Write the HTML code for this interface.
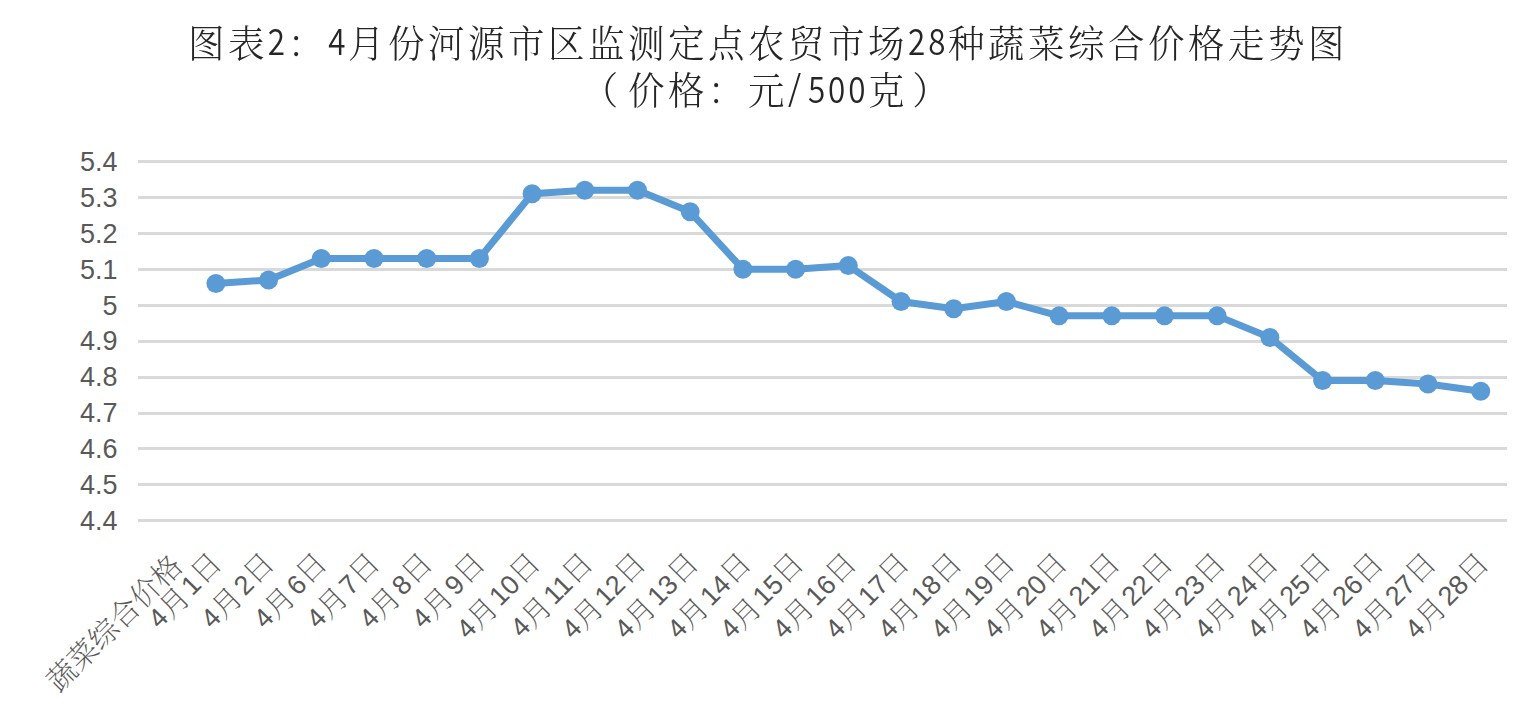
<!DOCTYPE html><html><head><meta charset="utf-8"><style>html,body{margin:0;padding:0;background:#fff;}body{position:relative;width:1535px;height:710px;overflow:hidden;}svg{display:block;position:absolute;left:0;top:0;}.tt{position:absolute;white-space:nowrap;font-family:'Liberation Serif','Noto Serif CJK SC',serif;font-size:38px;font-weight:300;letter-spacing:3.667px;color:#262626;line-height:1;transform:scaleX(0.96);transform-origin:0 0;}.tt .d{display:inline-block;width:20.833px;letter-spacing:0;font-family:'Noto Sans CJK SC',sans-serif;font-weight:350;font-size:36.5px;transform:scaleX(0.8958);transform-origin:1px 0;}.tt .lp{position:relative;left:-6.5px;}.tt .rp{position:relative;left:4.5px;}.tt .d{position:relative;top:-1.3px;line-height:20px;}.tt .d.s{transform:none;top:-3px;font-size:35px;padding-left:0px;width:20.833px;}</style></head><body>
<svg width="1535" height="710" viewBox="0 0 1535 710">
<rect width="1535" height="710" fill="#fff"/>
<rect x="138" y="160" width="1369" height="3" fill="#d9d9d9"/>
<rect x="138" y="196" width="1369" height="3" fill="#d9d9d9"/>
<rect x="138" y="232" width="1369" height="3" fill="#d9d9d9"/>
<rect x="138" y="268" width="1369" height="3" fill="#d9d9d9"/>
<rect x="138" y="304" width="1369" height="3" fill="#d9d9d9"/>
<rect x="138" y="340" width="1369" height="3" fill="#d9d9d9"/>
<rect x="138" y="376" width="1369" height="3" fill="#d9d9d9"/>
<rect x="138" y="412" width="1369" height="3" fill="#d9d9d9"/>
<rect x="138" y="447" width="1369" height="3" fill="#d9d9d9"/>
<rect x="138" y="483" width="1369" height="3" fill="#d9d9d9"/>
<rect x="138" y="519" width="1369" height="3" fill="#d9d9d9"/>
<g font-family="Liberation Sans, sans-serif" font-size="27" fill="#595959" text-anchor="end">
<text x="117.5" y="170.90">5.4</text>
<text x="117.5" y="206.80">5.3</text>
<text x="117.5" y="242.70">5.2</text>
<text x="117.5" y="278.60">5.1</text>
<text x="117.5" y="314.50">5</text>
<text x="117.5" y="350.40">4.9</text>
<text x="117.5" y="386.30">4.8</text>
<text x="117.5" y="422.20">4.7</text>
<text x="117.5" y="458.10">4.6</text>
<text x="117.5" y="494.00">4.5</text>
<text x="117.5" y="529.90">4.4</text>
</g>
<polyline points="215.90,283.56 268.60,279.97 321.30,258.43 374.00,258.43 426.70,258.43 479.40,258.43 532.10,193.81 584.80,190.22 637.50,190.22 690.20,211.76 742.90,269.20 795.60,269.20 848.30,265.61 901.00,301.51 953.70,308.69 1006.40,301.51 1059.10,315.87 1111.80,315.87 1164.50,315.87 1217.20,315.87 1269.90,337.41 1322.60,380.49 1375.30,380.49 1428.00,384.08 1480.70,391.26" fill="none" stroke="#5b9bd5" stroke-width="7" stroke-linejoin="round" stroke-linecap="round"/>
<circle cx="215.90" cy="283.56" r="9.5" fill="#5b9bd5"/>
<circle cx="268.60" cy="279.97" r="9.5" fill="#5b9bd5"/>
<circle cx="321.30" cy="258.43" r="9.5" fill="#5b9bd5"/>
<circle cx="374.00" cy="258.43" r="9.5" fill="#5b9bd5"/>
<circle cx="426.70" cy="258.43" r="9.5" fill="#5b9bd5"/>
<circle cx="479.40" cy="258.43" r="9.5" fill="#5b9bd5"/>
<circle cx="532.10" cy="193.81" r="9.5" fill="#5b9bd5"/>
<circle cx="584.80" cy="190.22" r="9.5" fill="#5b9bd5"/>
<circle cx="637.50" cy="190.22" r="9.5" fill="#5b9bd5"/>
<circle cx="690.20" cy="211.76" r="9.5" fill="#5b9bd5"/>
<circle cx="742.90" cy="269.20" r="9.5" fill="#5b9bd5"/>
<circle cx="795.60" cy="269.20" r="9.5" fill="#5b9bd5"/>
<circle cx="848.30" cy="265.61" r="9.5" fill="#5b9bd5"/>
<circle cx="901.00" cy="301.51" r="9.5" fill="#5b9bd5"/>
<circle cx="953.70" cy="308.69" r="9.5" fill="#5b9bd5"/>
<circle cx="1006.40" cy="301.51" r="9.5" fill="#5b9bd5"/>
<circle cx="1059.10" cy="315.87" r="9.5" fill="#5b9bd5"/>
<circle cx="1111.80" cy="315.87" r="9.5" fill="#5b9bd5"/>
<circle cx="1164.50" cy="315.87" r="9.5" fill="#5b9bd5"/>
<circle cx="1217.20" cy="315.87" r="9.5" fill="#5b9bd5"/>
<circle cx="1269.90" cy="337.41" r="9.5" fill="#5b9bd5"/>
<circle cx="1322.60" cy="380.49" r="9.5" fill="#5b9bd5"/>
<circle cx="1375.30" cy="380.49" r="9.5" fill="#5b9bd5"/>
<circle cx="1428.00" cy="384.08" r="9.5" fill="#5b9bd5"/>
<circle cx="1480.70" cy="391.26" r="9.5" fill="#5b9bd5"/>
<g fill="#595959" font-family="Liberation Sans, 'Noto Serif CJK SC', serif">
<text transform="translate(175.10,558.80) rotate(-45)" text-anchor="end"><tspan dy="13.00" font-family="'Liberation Serif', 'Noto Serif CJK SC', serif" font-weight="200" font-size="29.5">蔬菜综合价格</tspan></text>
<text transform="translate(214.33,555.80) rotate(-45)" text-anchor="end"><tspan dy="13.30" font-family="'Liberation Sans', sans-serif" font-size="27">4</tspan><tspan dy="1.70" font-family="'Liberation Serif', 'Noto Serif CJK SC', serif" font-weight="200" font-size="29.5">月</tspan><tspan dx="2.0" dy="-1.70" font-family="'Liberation Sans', sans-serif" font-size="27">1</tspan><tspan dy="-0.30" font-family="'Liberation Serif', 'Noto Serif CJK SC', serif" font-weight="200" font-size="29.5">日</tspan></text>
<text transform="translate(267.03,555.80) rotate(-45)" text-anchor="end"><tspan dy="13.30" font-family="'Liberation Sans', sans-serif" font-size="27">4</tspan><tspan dy="1.70" font-family="'Liberation Serif', 'Noto Serif CJK SC', serif" font-weight="200" font-size="29.5">月</tspan><tspan dx="2.0" dy="-1.70" font-family="'Liberation Sans', sans-serif" font-size="27">2</tspan><tspan dy="-0.30" font-family="'Liberation Serif', 'Noto Serif CJK SC', serif" font-weight="200" font-size="29.5">日</tspan></text>
<text transform="translate(319.73,555.80) rotate(-45)" text-anchor="end"><tspan dy="13.30" font-family="'Liberation Sans', sans-serif" font-size="27">4</tspan><tspan dy="1.70" font-family="'Liberation Serif', 'Noto Serif CJK SC', serif" font-weight="200" font-size="29.5">月</tspan><tspan dx="2.0" dy="-1.70" font-family="'Liberation Sans', sans-serif" font-size="27">6</tspan><tspan dy="-0.30" font-family="'Liberation Serif', 'Noto Serif CJK SC', serif" font-weight="200" font-size="29.5">日</tspan></text>
<text transform="translate(372.43,555.80) rotate(-45)" text-anchor="end"><tspan dy="13.30" font-family="'Liberation Sans', sans-serif" font-size="27">4</tspan><tspan dy="1.70" font-family="'Liberation Serif', 'Noto Serif CJK SC', serif" font-weight="200" font-size="29.5">月</tspan><tspan dx="2.0" dy="-1.70" font-family="'Liberation Sans', sans-serif" font-size="27">7</tspan><tspan dy="-0.30" font-family="'Liberation Serif', 'Noto Serif CJK SC', serif" font-weight="200" font-size="29.5">日</tspan></text>
<text transform="translate(425.13,555.80) rotate(-45)" text-anchor="end"><tspan dy="13.30" font-family="'Liberation Sans', sans-serif" font-size="27">4</tspan><tspan dy="1.70" font-family="'Liberation Serif', 'Noto Serif CJK SC', serif" font-weight="200" font-size="29.5">月</tspan><tspan dx="2.0" dy="-1.70" font-family="'Liberation Sans', sans-serif" font-size="27">8</tspan><tspan dy="-0.30" font-family="'Liberation Serif', 'Noto Serif CJK SC', serif" font-weight="200" font-size="29.5">日</tspan></text>
<text transform="translate(477.83,555.80) rotate(-45)" text-anchor="end"><tspan dy="13.30" font-family="'Liberation Sans', sans-serif" font-size="27">4</tspan><tspan dy="1.70" font-family="'Liberation Serif', 'Noto Serif CJK SC', serif" font-weight="200" font-size="29.5">月</tspan><tspan dx="2.0" dy="-1.70" font-family="'Liberation Sans', sans-serif" font-size="27">9</tspan><tspan dy="-0.30" font-family="'Liberation Serif', 'Noto Serif CJK SC', serif" font-weight="200" font-size="29.5">日</tspan></text>
<text transform="translate(533.04,555.80) rotate(-45)" text-anchor="end"><tspan dy="13.30" font-family="'Liberation Sans', sans-serif" font-size="27">4</tspan><tspan dy="1.70" font-family="'Liberation Serif', 'Noto Serif CJK SC', serif" font-weight="200" font-size="29.5">月</tspan><tspan dx="2.0" dy="-1.70" font-family="'Liberation Sans', sans-serif" font-size="27">10</tspan><tspan dy="-0.30" font-family="'Liberation Serif', 'Noto Serif CJK SC', serif" font-weight="200" font-size="29.5">日</tspan></text>
<text transform="translate(585.74,555.80) rotate(-45)" text-anchor="end"><tspan dy="13.30" font-family="'Liberation Sans', sans-serif" font-size="27">4</tspan><tspan dy="1.70" font-family="'Liberation Serif', 'Noto Serif CJK SC', serif" font-weight="200" font-size="29.5">月</tspan><tspan dx="2.0" dy="-1.70" font-family="'Liberation Sans', sans-serif" font-size="27">11</tspan><tspan dy="-0.30" font-family="'Liberation Serif', 'Noto Serif CJK SC', serif" font-weight="200" font-size="29.5">日</tspan></text>
<text transform="translate(638.44,555.80) rotate(-45)" text-anchor="end"><tspan dy="13.30" font-family="'Liberation Sans', sans-serif" font-size="27">4</tspan><tspan dy="1.70" font-family="'Liberation Serif', 'Noto Serif CJK SC', serif" font-weight="200" font-size="29.5">月</tspan><tspan dx="2.0" dy="-1.70" font-family="'Liberation Sans', sans-serif" font-size="27">12</tspan><tspan dy="-0.30" font-family="'Liberation Serif', 'Noto Serif CJK SC', serif" font-weight="200" font-size="29.5">日</tspan></text>
<text transform="translate(691.14,555.80) rotate(-45)" text-anchor="end"><tspan dy="13.30" font-family="'Liberation Sans', sans-serif" font-size="27">4</tspan><tspan dy="1.70" font-family="'Liberation Serif', 'Noto Serif CJK SC', serif" font-weight="200" font-size="29.5">月</tspan><tspan dx="2.0" dy="-1.70" font-family="'Liberation Sans', sans-serif" font-size="27">13</tspan><tspan dy="-0.30" font-family="'Liberation Serif', 'Noto Serif CJK SC', serif" font-weight="200" font-size="29.5">日</tspan></text>
<text transform="translate(743.84,555.80) rotate(-45)" text-anchor="end"><tspan dy="13.30" font-family="'Liberation Sans', sans-serif" font-size="27">4</tspan><tspan dy="1.70" font-family="'Liberation Serif', 'Noto Serif CJK SC', serif" font-weight="200" font-size="29.5">月</tspan><tspan dx="2.0" dy="-1.70" font-family="'Liberation Sans', sans-serif" font-size="27">14</tspan><tspan dy="-0.30" font-family="'Liberation Serif', 'Noto Serif CJK SC', serif" font-weight="200" font-size="29.5">日</tspan></text>
<text transform="translate(796.54,555.80) rotate(-45)" text-anchor="end"><tspan dy="13.30" font-family="'Liberation Sans', sans-serif" font-size="27">4</tspan><tspan dy="1.70" font-family="'Liberation Serif', 'Noto Serif CJK SC', serif" font-weight="200" font-size="29.5">月</tspan><tspan dx="2.0" dy="-1.70" font-family="'Liberation Sans', sans-serif" font-size="27">15</tspan><tspan dy="-0.30" font-family="'Liberation Serif', 'Noto Serif CJK SC', serif" font-weight="200" font-size="29.5">日</tspan></text>
<text transform="translate(849.24,555.80) rotate(-45)" text-anchor="end"><tspan dy="13.30" font-family="'Liberation Sans', sans-serif" font-size="27">4</tspan><tspan dy="1.70" font-family="'Liberation Serif', 'Noto Serif CJK SC', serif" font-weight="200" font-size="29.5">月</tspan><tspan dx="2.0" dy="-1.70" font-family="'Liberation Sans', sans-serif" font-size="27">16</tspan><tspan dy="-0.30" font-family="'Liberation Serif', 'Noto Serif CJK SC', serif" font-weight="200" font-size="29.5">日</tspan></text>
<text transform="translate(901.94,555.80) rotate(-45)" text-anchor="end"><tspan dy="13.30" font-family="'Liberation Sans', sans-serif" font-size="27">4</tspan><tspan dy="1.70" font-family="'Liberation Serif', 'Noto Serif CJK SC', serif" font-weight="200" font-size="29.5">月</tspan><tspan dx="2.0" dy="-1.70" font-family="'Liberation Sans', sans-serif" font-size="27">17</tspan><tspan dy="-0.30" font-family="'Liberation Serif', 'Noto Serif CJK SC', serif" font-weight="200" font-size="29.5">日</tspan></text>
<text transform="translate(954.64,555.80) rotate(-45)" text-anchor="end"><tspan dy="13.30" font-family="'Liberation Sans', sans-serif" font-size="27">4</tspan><tspan dy="1.70" font-family="'Liberation Serif', 'Noto Serif CJK SC', serif" font-weight="200" font-size="29.5">月</tspan><tspan dx="2.0" dy="-1.70" font-family="'Liberation Sans', sans-serif" font-size="27">18</tspan><tspan dy="-0.30" font-family="'Liberation Serif', 'Noto Serif CJK SC', serif" font-weight="200" font-size="29.5">日</tspan></text>
<text transform="translate(1007.34,555.80) rotate(-45)" text-anchor="end"><tspan dy="13.30" font-family="'Liberation Sans', sans-serif" font-size="27">4</tspan><tspan dy="1.70" font-family="'Liberation Serif', 'Noto Serif CJK SC', serif" font-weight="200" font-size="29.5">月</tspan><tspan dx="2.0" dy="-1.70" font-family="'Liberation Sans', sans-serif" font-size="27">19</tspan><tspan dy="-0.30" font-family="'Liberation Serif', 'Noto Serif CJK SC', serif" font-weight="200" font-size="29.5">日</tspan></text>
<text transform="translate(1060.04,555.80) rotate(-45)" text-anchor="end"><tspan dy="13.30" font-family="'Liberation Sans', sans-serif" font-size="27">4</tspan><tspan dy="1.70" font-family="'Liberation Serif', 'Noto Serif CJK SC', serif" font-weight="200" font-size="29.5">月</tspan><tspan dx="2.0" dy="-1.70" font-family="'Liberation Sans', sans-serif" font-size="27">20</tspan><tspan dy="-0.30" font-family="'Liberation Serif', 'Noto Serif CJK SC', serif" font-weight="200" font-size="29.5">日</tspan></text>
<text transform="translate(1112.74,555.80) rotate(-45)" text-anchor="end"><tspan dy="13.30" font-family="'Liberation Sans', sans-serif" font-size="27">4</tspan><tspan dy="1.70" font-family="'Liberation Serif', 'Noto Serif CJK SC', serif" font-weight="200" font-size="29.5">月</tspan><tspan dx="2.0" dy="-1.70" font-family="'Liberation Sans', sans-serif" font-size="27">21</tspan><tspan dy="-0.30" font-family="'Liberation Serif', 'Noto Serif CJK SC', serif" font-weight="200" font-size="29.5">日</tspan></text>
<text transform="translate(1165.44,555.80) rotate(-45)" text-anchor="end"><tspan dy="13.30" font-family="'Liberation Sans', sans-serif" font-size="27">4</tspan><tspan dy="1.70" font-family="'Liberation Serif', 'Noto Serif CJK SC', serif" font-weight="200" font-size="29.5">月</tspan><tspan dx="2.0" dy="-1.70" font-family="'Liberation Sans', sans-serif" font-size="27">22</tspan><tspan dy="-0.30" font-family="'Liberation Serif', 'Noto Serif CJK SC', serif" font-weight="200" font-size="29.5">日</tspan></text>
<text transform="translate(1218.14,555.80) rotate(-45)" text-anchor="end"><tspan dy="13.30" font-family="'Liberation Sans', sans-serif" font-size="27">4</tspan><tspan dy="1.70" font-family="'Liberation Serif', 'Noto Serif CJK SC', serif" font-weight="200" font-size="29.5">月</tspan><tspan dx="2.0" dy="-1.70" font-family="'Liberation Sans', sans-serif" font-size="27">23</tspan><tspan dy="-0.30" font-family="'Liberation Serif', 'Noto Serif CJK SC', serif" font-weight="200" font-size="29.5">日</tspan></text>
<text transform="translate(1270.84,555.80) rotate(-45)" text-anchor="end"><tspan dy="13.30" font-family="'Liberation Sans', sans-serif" font-size="27">4</tspan><tspan dy="1.70" font-family="'Liberation Serif', 'Noto Serif CJK SC', serif" font-weight="200" font-size="29.5">月</tspan><tspan dx="2.0" dy="-1.70" font-family="'Liberation Sans', sans-serif" font-size="27">24</tspan><tspan dy="-0.30" font-family="'Liberation Serif', 'Noto Serif CJK SC', serif" font-weight="200" font-size="29.5">日</tspan></text>
<text transform="translate(1323.54,555.80) rotate(-45)" text-anchor="end"><tspan dy="13.30" font-family="'Liberation Sans', sans-serif" font-size="27">4</tspan><tspan dy="1.70" font-family="'Liberation Serif', 'Noto Serif CJK SC', serif" font-weight="200" font-size="29.5">月</tspan><tspan dx="2.0" dy="-1.70" font-family="'Liberation Sans', sans-serif" font-size="27">25</tspan><tspan dy="-0.30" font-family="'Liberation Serif', 'Noto Serif CJK SC', serif" font-weight="200" font-size="29.5">日</tspan></text>
<text transform="translate(1376.24,555.80) rotate(-45)" text-anchor="end"><tspan dy="13.30" font-family="'Liberation Sans', sans-serif" font-size="27">4</tspan><tspan dy="1.70" font-family="'Liberation Serif', 'Noto Serif CJK SC', serif" font-weight="200" font-size="29.5">月</tspan><tspan dx="2.0" dy="-1.70" font-family="'Liberation Sans', sans-serif" font-size="27">26</tspan><tspan dy="-0.30" font-family="'Liberation Serif', 'Noto Serif CJK SC', serif" font-weight="200" font-size="29.5">日</tspan></text>
<text transform="translate(1428.94,555.80) rotate(-45)" text-anchor="end"><tspan dy="13.30" font-family="'Liberation Sans', sans-serif" font-size="27">4</tspan><tspan dy="1.70" font-family="'Liberation Serif', 'Noto Serif CJK SC', serif" font-weight="200" font-size="29.5">月</tspan><tspan dx="2.0" dy="-1.70" font-family="'Liberation Sans', sans-serif" font-size="27">27</tspan><tspan dy="-0.30" font-family="'Liberation Serif', 'Noto Serif CJK SC', serif" font-weight="200" font-size="29.5">日</tspan></text>
<text transform="translate(1481.64,555.80) rotate(-45)" text-anchor="end"><tspan dy="13.30" font-family="'Liberation Sans', sans-serif" font-size="27">4</tspan><tspan dy="1.70" font-family="'Liberation Serif', 'Noto Serif CJK SC', serif" font-weight="200" font-size="29.5">月</tspan><tspan dx="2.0" dy="-1.70" font-family="'Liberation Sans', sans-serif" font-size="27">28</tspan><tspan dy="-0.30" font-family="'Liberation Serif', 'Noto Serif CJK SC', serif" font-weight="200" font-size="29.5">日</tspan></text>
</g>
</svg>
<div class="tt" style="left:187.5px;top:24.7px">图表<span class="d">2</span>：<span class="d">4</span>月份河源市区监测定点农贸市场<span class="d">2</span><span class="d">8</span>种蔬菜综合价格走势图</div>
<div class="tt" style="left:587.5px;top:72px"><span class="lp">（</span>价格：元<span class="d s">/</span><span class="d">5</span><span class="d">0</span><span class="d">0</span>克<span class="rp">）</span></div>
</body></html>
